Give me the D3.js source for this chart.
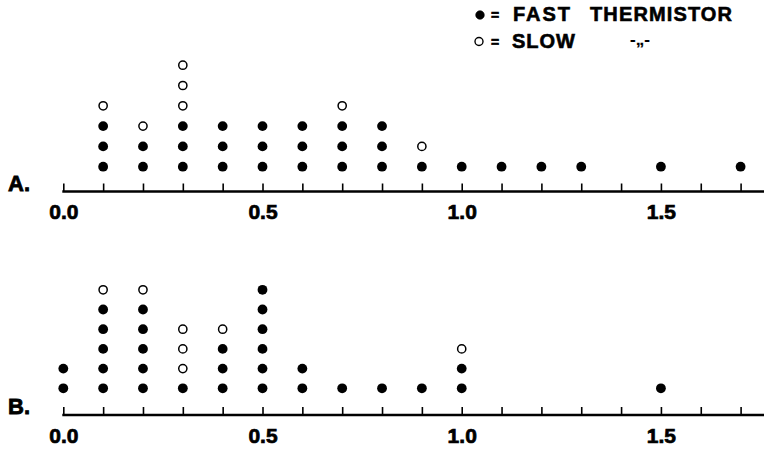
<!DOCTYPE html>
<html>
<head>
<meta charset="utf-8">
<script src="https://cdn.jsdelivr.net/npm/d3@7"></script>
<style>
  body { margin: 0; background: #fff; }
  svg { display: block; font-family: "Liberation Sans", Arial, sans-serif; font-weight: bold; }
</style>
</head>
<body>
<div id="chart"></div>
<script>
// valores del eje (x) y cuantos puntos rapidos / lentos hay en cada columna
var aValues = [0.1, 0.2, 0.3, 0.4, 0.5, 0.6, 0.7, 0.8, 0.9, 1.0, 1.1, 1.2, 1.3, 1.5, 1.7];
var aFast   = [3,   2,   3,   3,   3,   3,   3,   3,   1,   1,   1,   1,   1,   1,   1];
var aSlow   = [1,   1,   3,   0,   0,   0,   1,   0,   1,   0,   0,   0,   0,   0,   0];

var bValues = [0.0, 0.1, 0.2, 0.3, 0.4, 0.5, 0.6, 0.7, 0.8, 0.9, 1.0, 1.5];
var bFast   = [2,   5,   5,   1,   3,   6,   2,   1,   1,   1,   2,   1];
var bSlow   = [0,   1,   1,   3,   1,   0,   0,   0,   0,   0,   1,   0];

var tickValues = d3.range(0, 18).map(function (i) { return i / 10; });
var tickLabels = ["0.0", "0.5", "1.0", "1.5"];

var width = 764, height = 449;

var svg = d3.select("#chart").append("svg")
    .attr("width", width)
    .attr("height", height);

var x = d3.scaleLinear().domain([0, 1.7]).range([63.3, 740.6]);

function stackPoints(values, fast, slow) {
    var pts = [];
    values.forEach(function (v, i) {
        for (var k = 0; k < fast[i]; k++) pts.push({ x: v, row: k + 1, slow: false });
        for (var k = 0; k < slow[i]; k++) pts.push({ x: v, row: fast[i] + k + 1, slow: true });
    });
    return pts;
}

function panel(name, values, fast, slow, axisY, rowBottom, rowStep) {
    var y = d3.scaleLinear().domain([1, 2]).range([rowBottom, rowBottom - rowStep]);
    var g = svg.append("g");

    // eje
    var axis = d3.axisBottom(x)
        .tickValues(tickValues)
        .tickSizeInner(-8)
        .tickSizeOuter(0)
        .tickPadding(13)
        .tickFormat(function (d) {
            var s = d.toFixed(1);
            return tickLabels.indexOf(s) >= 0 ? s : "";
        });

    var ax = g.append("g")
        .attr("transform", "translate(0," + axisY + ")")
        .call(axis);
    ax.select(".domain").remove();
    ax.selectAll(".tick line").attr("stroke", "#000").attr("stroke-width", 1.6);
    ax.selectAll(".tick text")
        .attr("fill", "#000")
        .attr("stroke", "#000")
        .attr("stroke-width", 0.7)
        .style("font-size", "21px")
        .style("font-weight", "bold")
        .style("font-family", "'Liberation Sans', Arial, sans-serif");

    g.append("line")
        .attr("x1", x(0) - 1).attr("x2", width)
        .attr("y1", axisY).attr("y2", axisY)
        .attr("stroke", "#000")
        .attr("stroke-width", 2.4);

    g.append("text")
        .attr("x", 8)
        .attr("y", axisY - 1)
        .attr("stroke", "#000")
        .attr("stroke-width", 0.8)
        .style("font-size", "22px")
        .text(name);

    var pts = stackPoints(values, fast, slow);
    g.selectAll(".punto")
        .data(pts)
        .enter().append("circle")
        .attr("cx", function (d) { return x(d.x); })
        .attr("cy", function (d) { return y(d.row); })
        .attr("r", function (d) { return d.slow ? 4.1 : 4.9; })
        .attr("fill", function (d) { return d.slow ? "#fff" : "#000"; })
        .attr("stroke", "#000")
        .attr("stroke-width", function (d) { return d.slow ? 1.5 : 0; });
}

panel("A.", aValues, aFast, aSlow, 191.5, 166.7, 20.3);
panel("B.", bValues, bFast, bSlow, 415, 388.3, 19.7);

// leyenda
var leg = svg.append("g")
    .style("font-size", "20px")
    .attr("stroke", "#000")
    .attr("stroke-width", 0.6);
leg.append("circle").attr("cx", 480).attr("cy", 15).attr("r", 4.3).attr("fill", "#000");
leg.append("text").attr("x", 491).attr("y", 20).style("font-size", "14px").text("=");
leg.append("text").attr("x", 513).attr("y", 21).attr("textLength", 57).text("FAST");
leg.append("text").attr("x", 590).attr("y", 21).attr("textLength", 142).text("THERMISTOR");

leg.append("circle").attr("cx", 479).attr("cy", 41.5).attr("r", 4).attr("fill", "#fff")
    .attr("stroke", "#000").attr("stroke-width", 1.4);
leg.append("text").attr("x", 491).attr("y", 47).style("font-size", "14px").text("=");
leg.append("text").attr("x", 512).attr("y", 48).attr("textLength", 63).text("SLOW");
leg.append("text").attr("x", 630).attr("y", 45).attr("stroke-width", 0.2)
    .style("font-size", "17px").text("-\u201E-");
</script>
</body>
</html>
